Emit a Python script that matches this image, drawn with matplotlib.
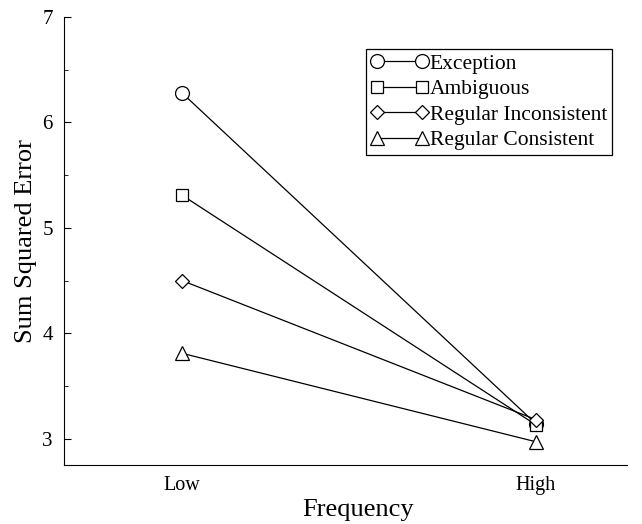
import matplotlib.pyplot as plt
from matplotlib.ticker import MultipleLocator

plt.rcParams['font.family'] = ['Liberation Serif', 'DejaVu Serif']

frequency = ["Low", "High"]
exception = [6.28, 3.14]
ambiguous = [5.31, 3.13]
regular_inconsistent = [4.50, 3.18]
regular_consistent = [3.81, 2.97]

series = [
    ("Exception", exception, "o", 10),
    ("Ambiguous", ambiguous, "s", 9),
    ("Regular Inconsistent", regular_inconsistent, "D", 7.5),
    ("Regular Consistent", regular_consistent, "^", 10),
]


def main():
    fig = plt.figure(figsize=(6.42, 5.24), dpi=100)
    ax = fig.add_axes([0.0997, 0.1126, 0.877, 0.855])

    xs = list(range(len(frequency)))
    for name, vals, mk, ms in series:
        ax.plot(xs, vals, color="black", linewidth=0.9, marker=mk,
                markersize=ms, markerfacecolor="white",
                markeredgecolor="black", markeredgewidth=0.9, label=name)

    ax.set_xlim(-0.333, 1.257)
    ax.set_ylim(2.75, 7)
    ax.set_xticks(xs)
    ax.set_xticklabels(frequency, fontsize=14.5)
    ax.tick_params(axis="x", length=0, pad=8)
    ax.yaxis.set_major_locator(MultipleLocator(1))
    ax.yaxis.set_minor_locator(MultipleLocator(0.5))
    ax.tick_params(axis="y", which="both", direction="in", labelsize=15)
    ax.tick_params(axis="y", which="major", length=5, pad=8)
    ax.tick_params(axis="y", which="minor", length=3)
    ax.spines["top"].set_visible(False)
    ax.spines["right"].set_visible(False)

    ax.set_xlabel("Frequency", fontsize=19, labelpad=4)
    ax.xaxis.set_label_coords(0.522, -0.075)
    ax.set_ylabel("Sum Squared Error", fontsize=19, labelpad=4)

    leg = ax.legend(loc="upper right", bbox_to_anchor=(0.973, 0.9286),
                    fontsize=15.5, fancybox=False, edgecolor="black",
                    framealpha=1, borderpad=0.22, labelspacing=0.25,
                    handlelength=2.7, handletextpad=0.05, numpoints=2,
                    borderaxespad=0)
    leg.get_frame().set_linewidth(0.9)

    fig.savefig("out.png", dpi=100)


if __name__ == "__main__":
    main()
